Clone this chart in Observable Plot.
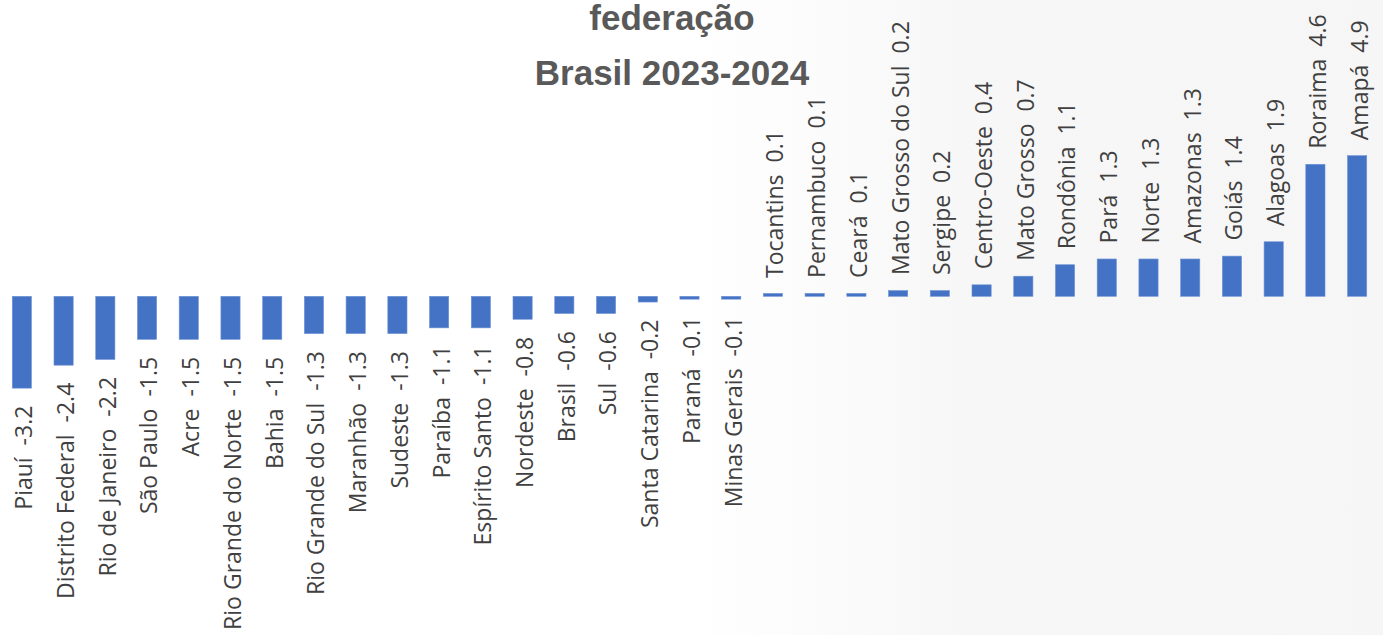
<!DOCTYPE html>
<html>
<head>
<meta charset="utf-8">
<script src="https://cdn.jsdelivr.net/npm/d3@7"></script>
<script src="https://cdn.jsdelivr.net/npm/@observablehq/plot@0.6"></script>
<style>
  html, body { margin: 0; padding: 0; }
  body { width: 1383px; height: 635px; overflow: hidden; position: relative;
         background: linear-gradient(90deg, #ffffff 0%, #ffffff 50%, #f7f7f7 70%, #f6f6f6 100%); }
  #chart { position: absolute; left: 0; top: 0; }
  #title { position: absolute; left: 472px; width: 400px; top: -10px; text-align: center;
           font-family: "Liberation Sans", Arial, sans-serif; font-weight: bold; font-size: 35px;
           line-height: 55px; color: #595959; }
</style>
</head>
<body>
<div id="chart"></div>
<div id="title">federação<br>Brasil 2023-2024</div>
<script>
const names = ["Piauí", "Distrito Federal", "Rio de Janeiro", "São Paulo", "Acre", "Rio Grande do Norte", "Bahia", "Rio Grande do Sul", "Maranhão", "Sudeste", "Paraíba", "Espírito Santo", "Nordeste", "Brasil", "Sul", "Santa Catarina", "Paraná", "Minas Gerais", "Tocantins", "Pernambuco", "Ceará", "Mato Grosso do Sul", "Sergipe", "Centro-Oeste", "Mato Grosso", "Rondônia", "Pará", "Norte", "Amazonas", "Goiás", "Alagoas", "Roraima", "Amapá"];
const values = [-3.2, -2.4, -2.2, -1.5, -1.5, -1.5, -1.5, -1.3, -1.3, -1.3, -1.1, -1.1, -0.8, -0.6, -0.6, -0.2, -0.1, -0.1, 0.1, 0.1, 0.1, 0.2, 0.2, 0.4, 0.7, 1.1, 1.3, 1.3, 1.3, 1.4, 1.9, 4.6, 4.9];

const data = names.map((n, i) => ({name: n, value: values[i], label: n + "\u00a0\u00a0" + values[i].toFixed(1)}));
const neg = data.filter(d => d.value < 0);
const pos = data.filter(d => d.value >= 0);

const zeroY = 296.3, pxPerUnit = 28.7;

const chart = Plot.plot({
  width: 1383,
  height: 635,
  marginLeft: 1,
  marginRight: 5,
  marginTop: 0,
  marginBottom: 0,
  style: {background: "transparent", fontFamily: "'Open Sans', sans-serif"},
  x: {domain: names, paddingInner: 0.54, paddingOuter: 0.27, round: false, axis: null},
  y: {domain: [-1, 1], range: [zeroY + pxPerUnit, zeroY - pxPerUnit], axis: null},
  marks: [
    Plot.barY(data, {x: "name", y1: 0, y2: "value", fill: "#4472C4", stroke: "#6f93d6", strokeWidth: 0.6}),
    Plot.text(neg, {x: "name", y: "value", text: "label", rotate: -90, textAnchor: "end", dy: 17, dx: 2.5,
      fontSize: 23, fill: "#404040"}),
    Plot.text(pos, {x: "name", y: "value", text: "label", rotate: -90, textAnchor: "start", dy: -16, dx: 2.5,
      fontSize: 23, fill: "#404040"})
  ]
});
document.getElementById("chart").appendChild(chart);
</script>
</body>
</html>
